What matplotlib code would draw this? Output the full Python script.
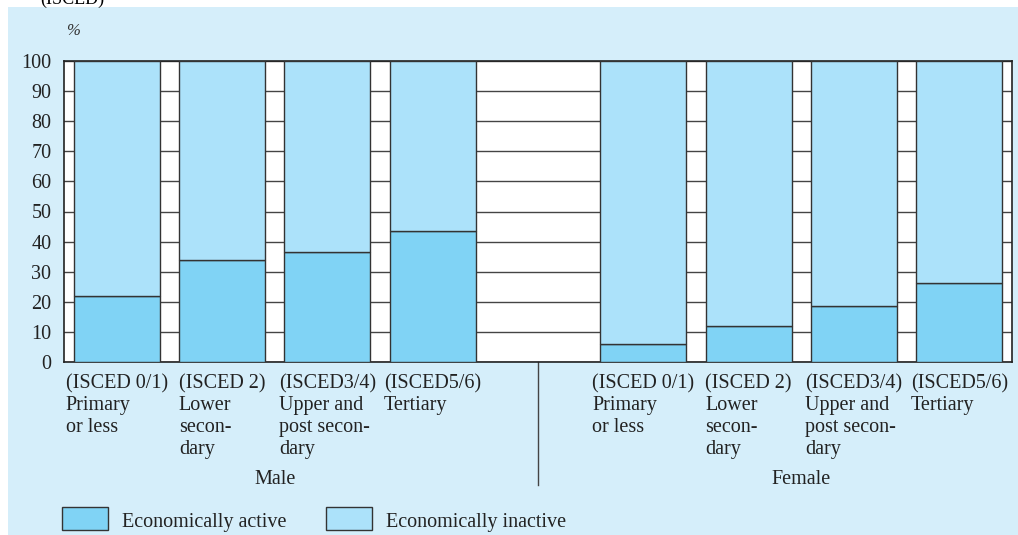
import matplotlib
matplotlib.use("Agg")
import matplotlib.pyplot as plt
from matplotlib.patches import Rectangle
from matplotlib.transforms import blended_transform_factory

plt.rcParams['font.family'] = ['Liberation Serif', 'DejaVu Serif']

# ---- data ----
positions = [0, 1, 2, 3, 5, 6, 7, 8]
category_labels = [
    "(ISCED 0/1)\nPrimary\nor less",
    "(ISCED 2)\nLower\nsecon-\ndary",
    "(ISCED3/4)\nUpper and\npost secon-\ndary",
    "(ISCED5/6)\nTertiary",
] * 2
active = [22, 33.8, 36.5, 43.4, 6, 12, 18.5, 26.3]
inactive = [100 - v for v in active]
groups = ["Male", "Female"]
group_centers = [1.5, 6.5]
yticks = list(range(0, 101, 10))
legend_labels = ["Economically active", "Economically inactive"]

c_active = "#80d3f5"
c_inactive = "#ace2fa"
c_panel = "#d5eefa"
edge = "#333333"

W, H = 1018, 535
fig = plt.figure(figsize=(W / 100, H / 100), dpi=100)
fig.patch.set_facecolor("white")

def fx(px):
    return px / W

def fy(py):
    return 1 - py / H

# background panel
fig.patches.append(Rectangle((fx(8), 0), 1 - fx(8), fy(7), transform=fig.transFigure,
                             facecolor=c_panel, edgecolor="none", zorder=-10))
fig.text(fx(40), fy(-1), "(ISCED)", fontsize=13, ha="left", va="center")
fig.text(fx(73), fy(31), "%", fontsize=12, style="italic", ha="center", va="center", color="#333333")

ax = fig.add_axes([fx(64), fy(362), fx(1012) - fx(64), fy(61) - fy(362)])
ax.set_facecolor("white")
ax.bar(positions, active, width=0.815, color=c_active, edgecolor=edge, linewidth=1, zorder=3)
ax.bar(positions, inactive, bottom=active, width=0.815, color=c_inactive, edgecolor=edge,
       linewidth=1, zorder=3)
ax.set_xlim(-0.5, 8.5)
ax.set_ylim(0, 100)
ax.set_yticks(yticks)
ax.set_yticklabels([str(t) for t in yticks], fontsize=14.5, color="#222222")
ax.tick_params(axis="y", length=0, pad=9)
ax.set_xticks([])
ax.yaxis.grid(True, color="#444444", linewidth=1)
ax.set_axisbelow(True)
for s in ax.spines.values():
    s.set_color("#222222")
    s.set_linewidth(1.2)

tr = blended_transform_factory(ax.transData, fig.transFigure)
for p, lab in zip(positions, category_labels):
    ax.text(p, fy(374), lab, transform=tr, ha="center", va="top", multialignment="left",
            fontsize=14.5, linespacing=1.22, color="#222222", clip_on=False)
for c, g in zip(group_centers, groups):
    ax.text(c, fy(480), g, transform=tr, ha="center", va="center", fontsize=14.5,
            color="#222222", clip_on=False)
# separator line between groups
ax.plot([4, 4], [fy(362), fy(485)], transform=tr, color="#444444", linewidth=1, clip_on=False)

# legend
for x0, x1, col, lab in [(62, 108, c_active, legend_labels[0]), (326, 372, c_inactive, legend_labels[1])]:
    fig.patches.append(Rectangle((fx(x0), fy(530)), fx(x1) - fx(x0), fy(507) - fy(530),
                                 transform=fig.transFigure, facecolor=col, edgecolor=edge,
                                 linewidth=1, zorder=2))
    fig.text(fx(x1 + 14), fy(523), lab, fontsize=14.5, ha="left", va="center", color="#222222")

fig.savefig("out.png", dpi=100)
